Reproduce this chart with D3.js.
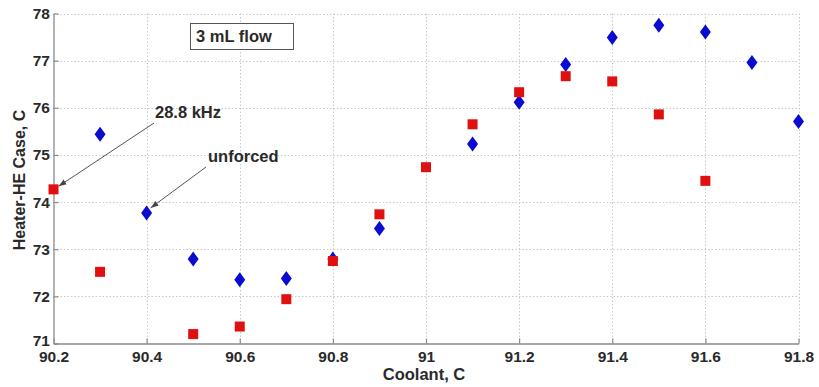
<!DOCTYPE html>
<html>
<head>
<meta charset="utf-8">
<script src="https://cdn.jsdelivr.net/npm/d3@7"></script>
<style>
  html, body { margin: 0; padding: 0; background: #fff; }
  svg { display: block; }
  text { font-family: Arial, "Liberation Sans", Helvetica, sans-serif; font-weight: bold; fill: #2a2a2a; }
</style>
</head>
<body>
<svg id="chart" width="819" height="387"></svg>
<script>
// Coolant temperature (C) at each measurement
const coolantUnforced = [90.3, 90.4, 90.5, 90.6, 90.7, 90.8, 90.9, 91.1, 91.2, 91.3, 91.4, 91.5, 91.6, 91.7, 91.8];
const caseUnforced    = [75.44, 73.77, 72.79, 72.35, 72.38, 72.79, 73.44, 75.23, 76.12, 76.92, 77.49, 77.75, 77.61, 76.96, 75.71];

const coolantForced = [90.2, 90.3, 90.5, 90.6, 90.7, 90.8, 90.9, 91.0, 91.1, 91.2, 91.3, 91.4, 91.5, 91.6];
const caseForced    = [74.27, 72.52, 71.20, 71.36, 71.94, 72.75, 73.74, 74.74, 75.65, 76.33, 76.67, 76.56, 75.86, 74.45];

const xTicks = [90.2, 90.4, 90.6, 90.8, 91, 91.2, 91.4, 91.6, 91.8];
const yTicks = [71, 72, 73, 74, 75, 76, 77, 78];

const svg = d3.select("#chart");
const m = { left: 53.5, right: 798.5, top: 13.5, bottom: 343.5 };

const x = d3.scaleLinear().domain([90.2, 91.8]).range([m.left, m.right]);
const y = d3.scaleLinear().domain([71, 78]).range([m.bottom, m.top]);

// dotted grid
const grid = svg.append("g").attr("stroke", "#c8c8c8").attr("stroke-width", 1).attr("stroke-dasharray", "1.5,2");
grid.selectAll(".gx").data(xTicks.slice(1)).join("line")
  .attr("x1", d => Math.round(x(d)) + 0.5).attr("x2", d => Math.round(x(d)) + 0.5)
  .attr("y1", m.top).attr("y2", m.bottom);
grid.selectAll(".gy").data(yTicks.slice(1)).join("line")
  .attr("y1", d => Math.round(y(d)) + 0.5).attr("y2", d => Math.round(y(d)) + 0.5)
  .attr("x1", m.left).attr("x2", m.right);

// axes
const xAxis = svg.append("g").attr("transform", `translate(0,${m.bottom})`)
  .call(d3.axisBottom(x).tickValues(xTicks).tickSizeInner(-5).tickSizeOuter(0).tickPadding(7.5)
    .tickFormat(d => String(+d.toFixed(1))));
const yAxis = svg.append("g").attr("transform", `translate(${m.left},0)`)
  .call(d3.axisLeft(y).tickValues(yTicks).tickSizeInner(-5).tickSizeOuter(0).tickPadding(3.5)
    .tickFormat(d3.format("d")));
[xAxis, yAxis].forEach(a => {
  a.select(".domain").attr("stroke", "#8a8a8a").attr("stroke-width", 1.3);
  a.selectAll(".tick line").attr("stroke", "#8a8a8a").attr("stroke-width", 1.2);
  a.selectAll(".tick text").attr("font-size", 15.5).attr("font-family", null).attr("fill", "#2a2a2a");
});
// the lowest y label sits just above the corner, clear of "90.2"
yAxis.selectAll(".tick text").filter(d => d === 71).attr("dy", "0.1em");

// axis titles
svg.append("text").attr("x", (m.left + m.right) / 2 - 2).attr("y", 379.5)
  .attr("text-anchor", "middle").attr("font-size", 16.5).text("Coolant, C");
svg.append("text").attr("transform", `translate(24.5,180) rotate(-90)`)
  .attr("text-anchor", "middle").attr("font-size", 16).text("Heater-HE Case, C");

// markers
const diamond = "M0,-7.5L5.5,0L0,7.5L-5.5,0Z";
svg.append("g").selectAll("path").data(coolantUnforced).join("path")
  .attr("d", diamond)
  .attr("transform", (d, i) => `translate(${x(d)},${y(caseUnforced[i])})`)
  .attr("fill", "#0a0ad0");
svg.append("g").selectAll("rect").data(coolantForced).join("rect")
  .attr("x", d => x(d) - 5).attr("width", 10)
  .attr("y", (d, i) => y(caseForced[i]) - 5).attr("height", 10)
  .attr("fill", "#e01010");

// flow-rate label box
svg.append("rect").attr("x", 190.5).attr("y", 23.5).attr("width", 103).attr("height", 26)
  .attr("fill", "#fff").attr("stroke", "#555").attr("stroke-width", 1);
svg.append("text").attr("x", 196).attr("y", 42).attr("font-size", 16.5).text("3 mL flow");

// annotations with arrows
svg.append("defs").append("marker").attr("id", "ah").attr("viewBox", "0 0 10 10")
  .attr("refX", 10).attr("refY", 5).attr("markerWidth", 8).attr("markerHeight", 8)
  .attr("orient", "auto").append("path").attr("d", "M0,1.5L10,5L0,8.5Z").attr("fill", "#444");

const notes = [
  { label: "28.8 kHz", tx: 155, ty: 117.5, from: [154, 123], to: x => [x(90.2) + 5, y(74.27) - 3] },
  { label: "unforced", tx: 208, ty: 161.5, from: [206, 167], to: x => [x(90.4) + 4, y(73.77) - 5] }
];
notes.forEach(n => {
  const [x2, y2] = n.to(x);
  svg.append("line").attr("x1", n.from[0]).attr("y1", n.from[1]).attr("x2", x2).attr("y2", y2)
    .attr("stroke", "#555").attr("stroke-width", 1).attr("marker-end", "url(#ah)");
  svg.append("text").attr("x", n.tx).attr("y", n.ty).attr("font-size", 16.5).text(n.label);
});
</script>
</body>
</html>
